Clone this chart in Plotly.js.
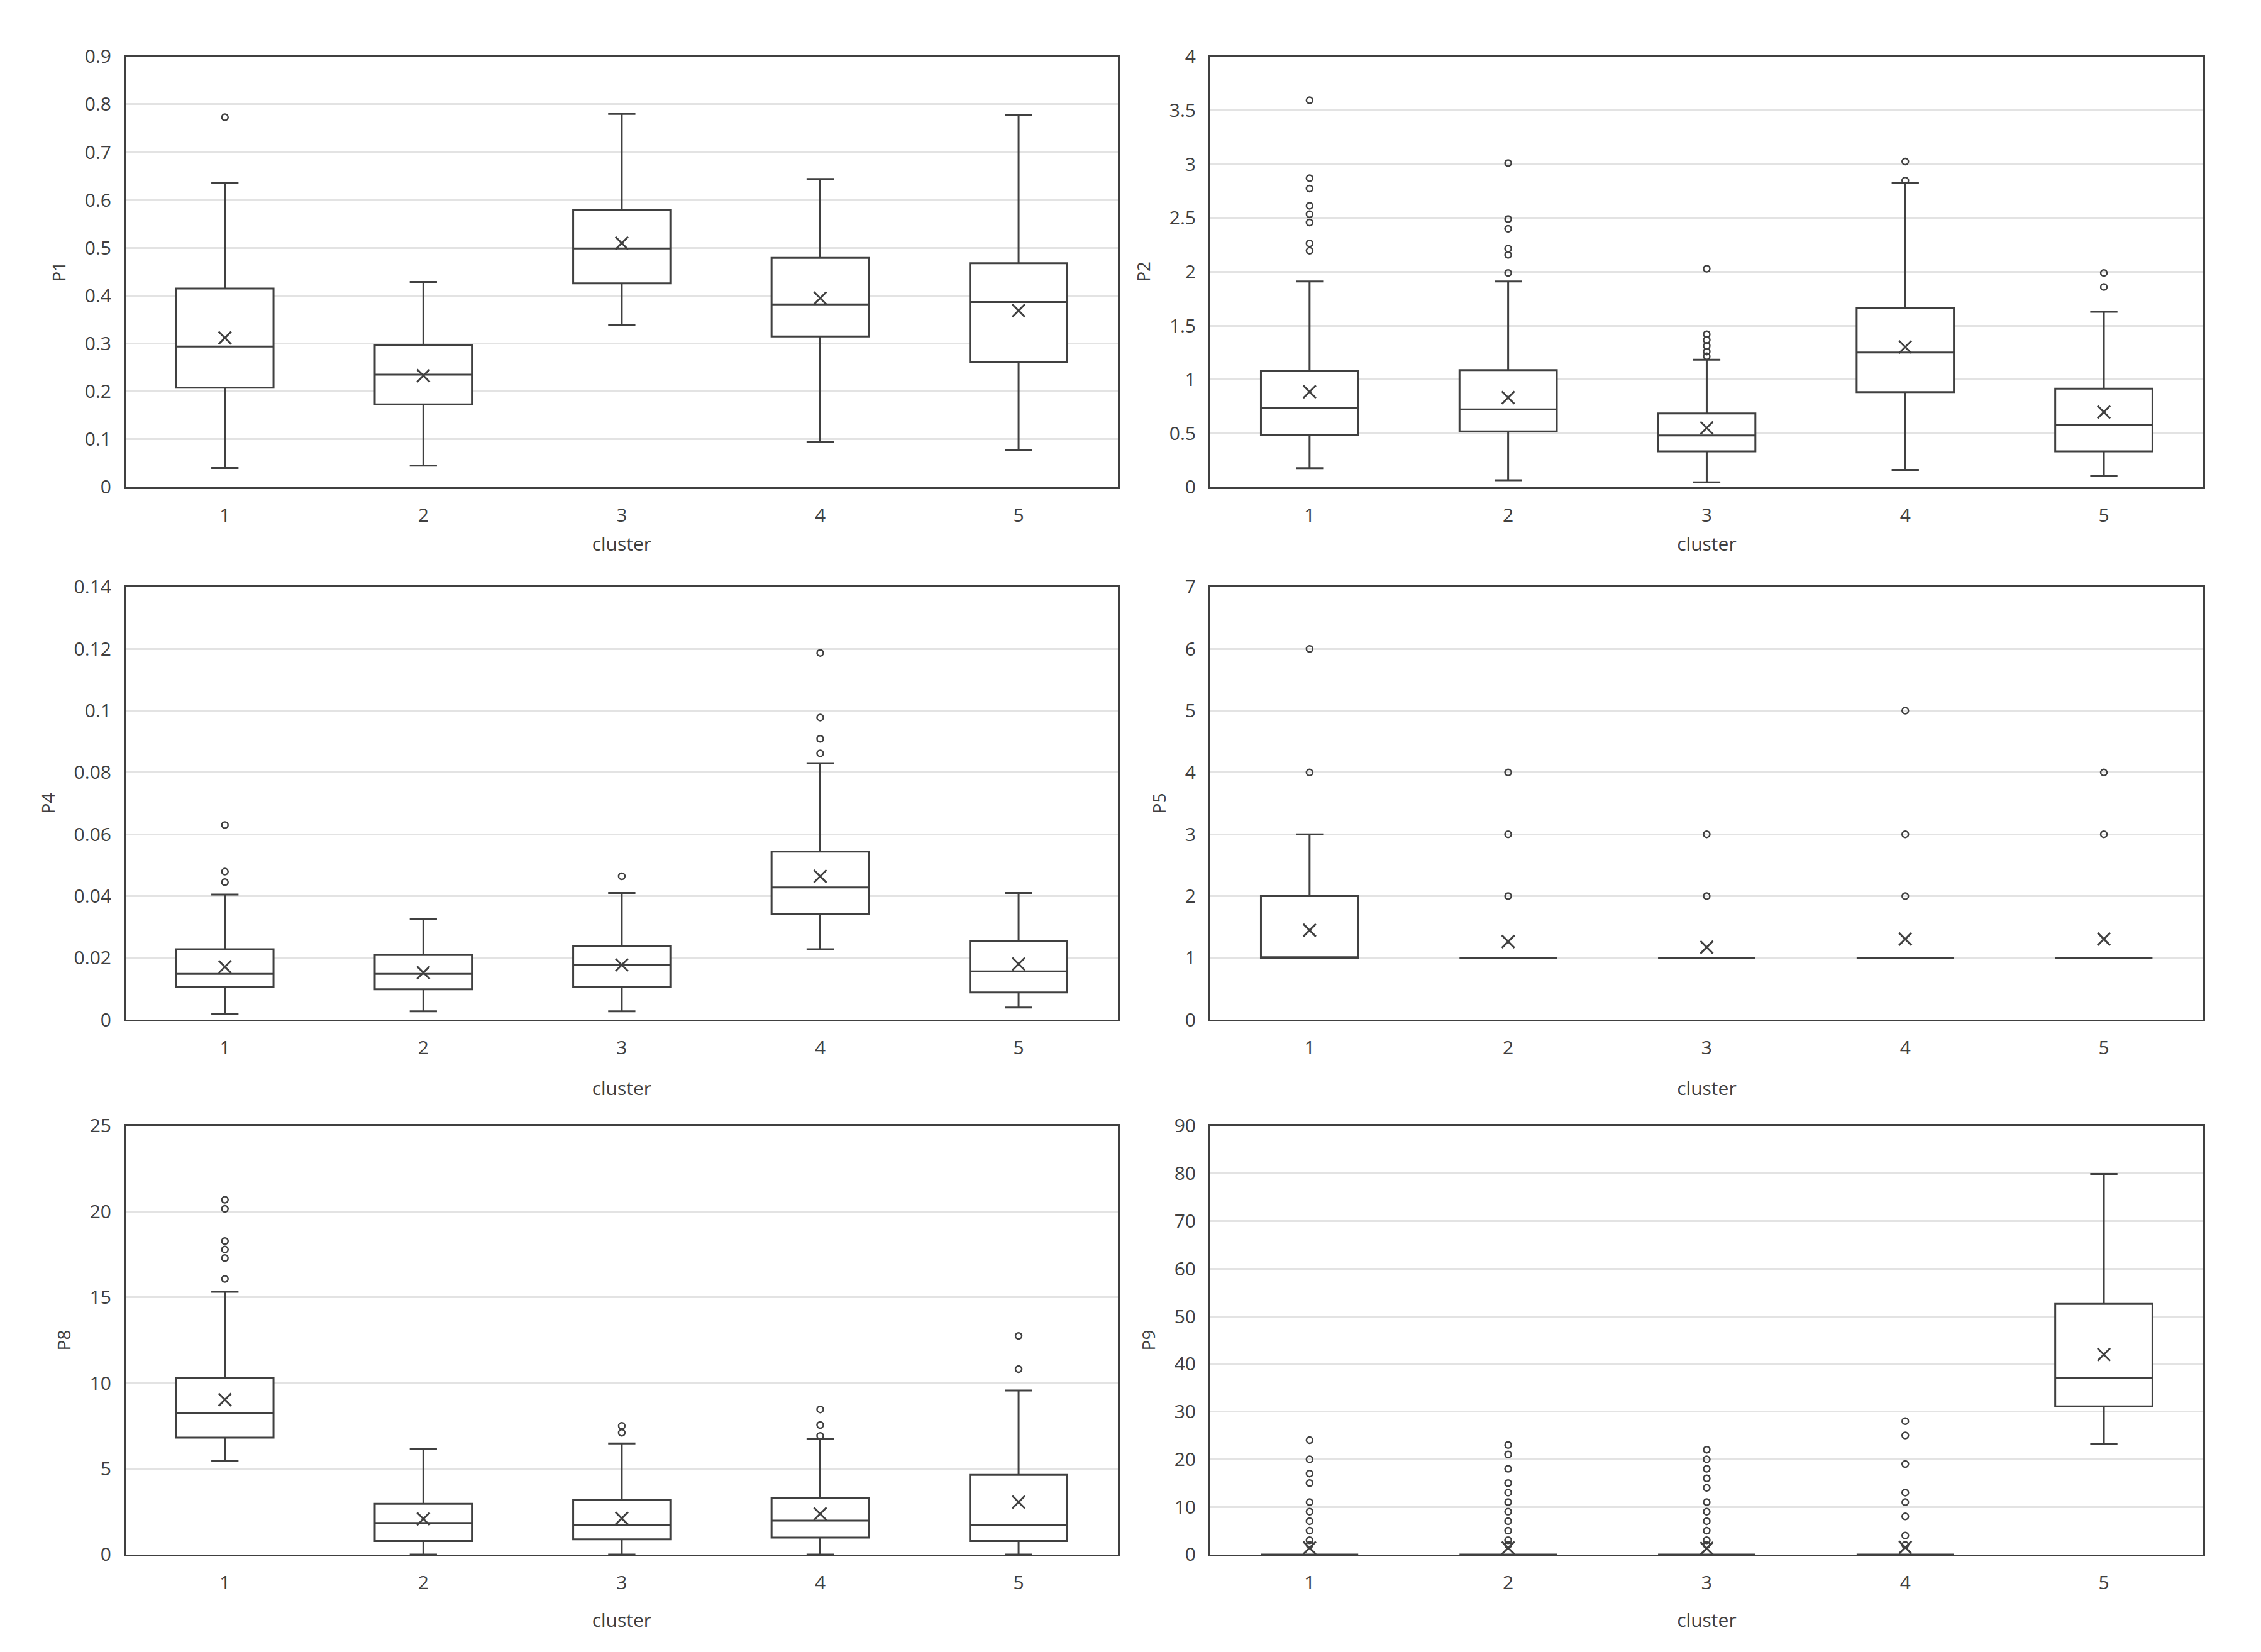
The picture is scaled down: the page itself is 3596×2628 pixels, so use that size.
<!DOCTYPE html>
<html>
<head>
<meta charset="utf-8">
<script src="https://cdn.plot.ly/plotly-3.0.1.min.js"></script>
<style>html,body{margin:0;padding:0;background:#fff;}#chart{width:3596px;height:2628px;}</style>
</head>
<body>
<div id="chart"></div>
<script>
// ---------- data ----------
const clusters = [1, 2, 3, 4, 5];
const clusterTickText = ['1', '2', '3', '4', '5'];

// P1
const p1Q1 = [0.208, 0.173, 0.426, 0.315, 0.262];
const p1Median = [0.294, 0.235, 0.499, 0.382, 0.387];
const p1Q3 = [0.415, 0.297, 0.580, 0.479, 0.468];
const p1Lower = [0.040, 0.045, 0.339, 0.094, 0.078];
const p1Upper = [0.636, 0.429, 0.780, 0.644, 0.777];
const p1Mean = [0.312, 0.233, 0.510, 0.395, 0.369];
const p1Outliers = [[0.773], [], [], [], []];

// P2
const p2Q1 = [0.486, 0.518, 0.333, 0.883, 0.333];
const p2Median = [0.739, 0.723, 0.480, 1.251, 0.576];
const p2Q3 = [1.078, 1.088, 0.685, 1.667, 0.915];
const p2Lower = [0.176, 0.064, 0.045, 0.160, 0.102];
const p2Upper = [1.910, 1.910, 1.184, 2.829, 1.629];
const p2Mean = [0.886, 0.832, 0.550, 1.302, 0.698];
const p2Outliers = [
  [3.593, 2.870, 2.773, 2.613, 2.535, 2.458, 2.264, 2.196],
  [3.010, 2.490, 2.400, 2.216, 2.158, 1.990],
  [2.029, 1.420, 1.366, 1.312, 1.260, 1.216],
  [3.024, 2.848],
  [1.990, 1.859]
];

// P4
const p4Q1 = [0.0106, 0.0098, 0.0106, 0.0342, 0.0088];
const p4Median = [0.0148, 0.0148, 0.0177, 0.0428, 0.0156];
const p4Q3 = [0.0228, 0.0209, 0.0237, 0.0544, 0.0254];
const p4Lower = [0.0018, 0.0027, 0.0027, 0.0228, 0.0039];
const p4Upper = [0.0405, 0.0325, 0.0410, 0.0830, 0.0410];
const p4Mean = [0.0171, 0.0152, 0.0177, 0.0464, 0.0180];
const p4Outliers = [[0.0630, 0.0479, 0.0445], [], [0.0464], [0.1187, 0.0978, 0.0909, 0.0862], []];

// P5
const p5Q1 = [1, 1, 1, 1, 1];
const p5Median = [1, 1, 1, 1, 1];
const p5Q3 = [2, 1, 1, 1, 1];
const p5Lower = [1, 1, 1, 1, 1];
const p5Upper = [3, 1, 1, 1, 1];
const p5Mean = [1.446, 1.263, 1.171, 1.303, 1.303];
const p5Outliers = [[4, 6], [2, 3, 4], [2, 3], [2, 3, 5], [3, 4]];

// P8
const p8Q1 = [6.82, 0.79, 0.89, 0.99, 0.79];
const p8Median = [8.24, 1.84, 1.74, 1.98, 1.74];
const p8Q3 = [10.28, 2.96, 3.20, 3.30, 4.64];
const p8Lower = [5.47, 0, 0, 0, 0];
const p8Upper = [15.32, 6.17, 6.48, 6.74, 9.57];
const p8Mean = [9.03, 2.08, 2.11, 2.37, 3.06];
const p8Outliers = [[20.69, 20.16, 18.28, 17.79, 17.29, 16.07], [], [7.5, 7.1], [8.46, 7.55, 6.92], [12.75, 10.81]];

// P9
const p9Q1 = [0, 0, 0, 0, 31.1];
const p9Median = [0, 0, 0, 0, 37.1];
const p9Q3 = [0, 0, 0, 0, 52.6];
const p9Lower = [0, 0, 0, 0, 23.2];
const p9Upper = [0, 0, 0, 0, 79.9];
const p9Mean = [1.4, 1.4, 1.3, 1.5, 42.0];
const p9Outliers = [
  [24, 20, 17, 15, 11, 9, 7, 5, 3, 2],
  [23, 21, 18, 15, 13, 11, 9, 7, 5, 3, 2],
  [22, 20, 18, 16, 14, 11, 9, 7, 5, 3, 2],
  [28, 25, 19, 13, 11, 8, 4, 2],
  []
];

// ---------- styling ----------
const INK = '#404040';
const FONT = 'Open Sans, Noto Sans, sans-serif';

const panels = [
  {name: 'P1', q1: p1Q1, med: p1Median, q3: p1Q3, lo: p1Lower, hi: p1Upper, mean: p1Mean, out: p1Outliers, range: [0, 0.9], dtick: 0.1},
  {name: 'P2', q1: p2Q1, med: p2Median, q3: p2Q3, lo: p2Lower, hi: p2Upper, mean: p2Mean, out: p2Outliers, range: [0, 4], dtick: 0.5},
  {name: 'P4', q1: p4Q1, med: p4Median, q3: p4Q3, lo: p4Lower, hi: p4Upper, mean: p4Mean, out: p4Outliers, range: [0, 0.14], dtick: 0.02},
  {name: 'P5', q1: p5Q1, med: p5Median, q3: p5Q3, lo: p5Lower, hi: p5Upper, mean: p5Mean, out: p5Outliers, range: [0, 7], dtick: 1},
  {name: 'P8', q1: p8Q1, med: p8Median, q3: p8Q3, lo: p8Lower, hi: p8Upper, mean: p8Mean, out: p8Outliers, range: [0, 25], dtick: 5},
  {name: 'P9', q1: p9Q1, med: p9Median, q3: p9Q3, lo: p9Lower, hi: p9Upper, mean: p9Mean, out: p9Outliers, range: [0, 90], dtick: 10}
];

const xDomains = [[0.0556, 0.4944], [0.5353, 0.9744]];
const yDomains = [[0.7051, 0.9658], [0.3828, 0.6446], [0.0590, 0.3185]];
const xTitleStandoff = [18, 36, 32];

const traces = [];
const layout = {
  width: 3596, height: 2628,
  margin: {l: 0, r: 0, t: 0, b: 0},
  paper_bgcolor: '#ffffff', plot_bgcolor: '#ffffff',
  showlegend: false,
  font: {family: FONT, color: INK, size: 30}
};

panels.forEach((p, i) => {
  const n = i + 1;
  const xa = n === 1 ? 'x' : 'x' + n;
  const ya = n === 1 ? 'y' : 'y' + n;
  const col = i % 2, row = Math.floor(i / 2);

  traces.push({
    type: 'box', xaxis: xa, yaxis: ya,
    x: clusters, q1: p.q1, median: p.med, q3: p.q3,
    lowerfence: p.lo, upperfence: p.hi,
    boxpoints: false, width: 0.49, whiskerwidth: 0.28,
    fillcolor: '#ffffff', line: {color: INK, width: 3},
    hoverinfo: 'skip'
  });

  const ox = [], oy = [];
  p.out.forEach((vals, k) => vals.forEach(v => { ox.push(clusters[k]); oy.push(v); }));
  traces.push({
    type: 'scatter', mode: 'markers', xaxis: xa, yaxis: ya,
    x: ox, y: oy,
    marker: {symbol: 'circle-open', size: 10, color: INK, line: {width: 2.5, color: INK}},
    cliponaxis: false, hoverinfo: 'skip'
  });

  traces.push({
    type: 'scatter', mode: 'markers', xaxis: xa, yaxis: ya,
    x: clusters, y: p.mean,
    marker: {symbol: 'x-thin-open', size: 20, color: INK, line: {width: 3, color: INK}},
    cliponaxis: false, hoverinfo: 'skip'
  });

  layout['xaxis' + (n === 1 ? '' : n)] = {
    domain: xDomains[col], anchor: ya,
    range: [0.5, 5.5], tickvals: clusters, ticktext: clusterTickText,
    showgrid: false, zeroline: false,
    showline: true, mirror: true, linecolor: INK, linewidth: 3,
    ticks: '', ticklabelstandoff: 16,
    tickfont: {family: FONT, size: 30, color: INK},
    title: {text: 'cluster', font: {family: FONT, size: 30, color: INK}, standoff: xTitleStandoff[row]},
    fixedrange: true
  };
  layout['yaxis' + (n === 1 ? '' : n)] = {
    domain: yDomains[row], anchor: xa,
    range: p.range, dtick: p.dtick, tick0: 0,
    showgrid: true, gridcolor: '#e3e3e3', gridwidth: 3,
    zeroline: false,
    showline: true, mirror: true, linecolor: INK, linewidth: 3,
    ticks: '', ticklabelstandoff: 14,
    tickfont: {family: FONT, size: 30, color: INK},
    title: {text: p.name, font: {family: FONT, size: 28, color: INK}, standoff: 22},
    fixedrange: true
  };
});

Plotly.newPlot('chart', traces, layout, {staticPlot: true, displayModeBar: false});
</script>
</body>
</html>
